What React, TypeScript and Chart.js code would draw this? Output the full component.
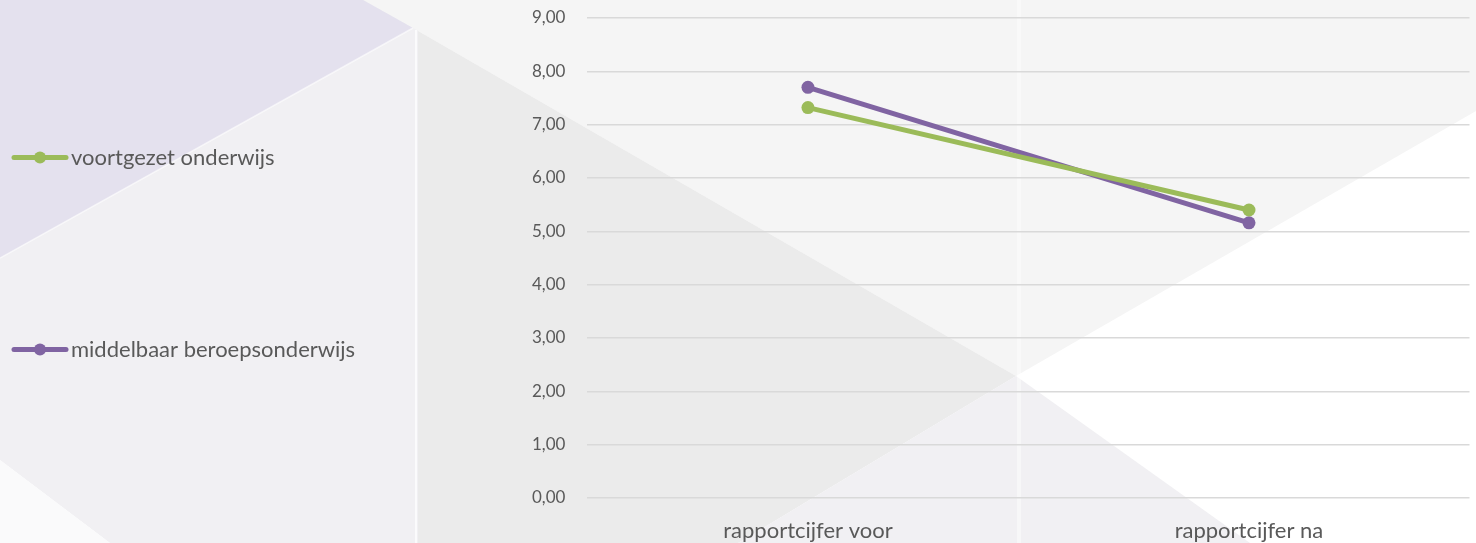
import React, { useEffect, useRef } from "react";
import { Chart, registerables } from "chart.js";

Chart.register(...registerables);

const categories = ["rapportcijfer voor", "rapportcijfer na"];
const seriesNames = ["voortgezet onderwijs", "middelbaar beroepsonderwijs"];
const voortgezetValues = [7.32, 5.4];
const mboValues = [7.7, 5.16];
const seriesColors = ["#9BBB59", "#8064A2"];
const yMin = 0;
const yMax = 9;
const yStep = 1;

const FONT = "Lato, 'Open Sans', sans-serif";

const backgroundPlugin = {
  id: "bgShapes",
  beforeDraw(chart: any) {
    const { ctx, width, height } = chart;
    const sx = width / 1476;
    const sy = height / 543;
    const poly = (pts: number[][], color: string) => {
      ctx.beginPath();
      pts.forEach(([x, y], i) => {
        if (i === 0) ctx.moveTo(x * sx, y * sy);
        else ctx.lineTo(x * sx, y * sy);
      });
      ctx.closePath();
      ctx.fillStyle = color;
      ctx.fill();
    };
    ctx.save();
    ctx.fillStyle = "#FFFFFF";
    ctx.fillRect(0, 0, width, height);
    poly([[0, 0], [418, 0], [418, 543], [110, 543], [0, 460]], "#F1F0F3");
    poly([[0, 460], [110, 543], [0, 543]], "#FAFAFB");
    poly([[363, 0], [1476, 0], [1476, 111], [1016, 376], [413, 28]], "#F5F5F5");
    poly([[0, 0], [363, 0], [413, 28], [0, 258]], "#E4E1EE");
    poly([[413, 28], [1016, 376], [738, 543], [418, 543], [418, 31]], "#EBEBEB");
    poly([[738, 543], [1016, 376], [1250, 543]], "#F1F0F3");
    ctx.strokeStyle = "rgba(255,255,255,0.7)";
    ctx.lineWidth = 2;
    ctx.beginPath();
    ctx.moveTo(416 * sx, 30 * sy);
    ctx.lineTo(416 * sx, height);
    ctx.stroke();
    ctx.strokeStyle = "rgba(255,255,255,0.45)";
    ctx.lineWidth = 4;
    ctx.beginPath();
    ctx.moveTo(1019 * sx, 0);
    ctx.lineTo(1019 * sx, height);
    ctx.stroke();
    ctx.strokeStyle = "rgba(255,255,255,0.6)";
    ctx.lineWidth = 1.5;
    ctx.beginPath();
    ctx.moveTo(413 * sx, 28 * sy);
    ctx.lineTo(0, 258 * sy);
    ctx.stroke();
    ctx.restore();
  },
};

const legendPlugin = {
  id: "sideLegend",
  afterDraw(chart: any) {
    const { ctx, height } = chart;
    const gap = 192;
    const n = chart.data.datasets.length;
    const startY = height / 2 - 114 - ((n - 1) * gap) / 2 + gap / 2;
    ctx.save();
    chart.data.datasets.forEach((ds: any, i: number) => {
      const y = startY + i * gap;
      ctx.strokeStyle = ds.borderColor;
      ctx.lineWidth = 5;
      ctx.lineCap = "round";
      ctx.beginPath();
      ctx.moveTo(14, y);
      ctx.lineTo(66, y);
      ctx.stroke();
      ctx.fillStyle = ds.borderColor;
      ctx.beginPath();
      ctx.arc(40, y, 6, 0, Math.PI * 2);
      ctx.fill();
      ctx.fillStyle = "#595959";
      ctx.font = `22px ${FONT}`;
      ctx.textBaseline = "middle";
      ctx.textAlign = "left";
      ctx.fillText(ds.label, 71, y);
    });
    ctx.restore();
  },
};

export default function App() {
  const canvasRef = useRef<HTMLCanvasElement | null>(null);

  useEffect(() => {
    if (!canvasRef.current) return;
    const mk = (i: number, data: number[]) => ({
      label: seriesNames[i],
      data,
      borderColor: seriesColors[i],
      backgroundColor: seriesColors[i],
      pointBackgroundColor: seriesColors[i],
      borderWidth: 5,
      pointRadius: 6.5,
      pointHoverRadius: 6.5,
      pointBorderWidth: 0,
      tension: 0,
      borderCapStyle: "round" as const,
    });
    const chart = new Chart(canvasRef.current, {
      type: "line",
      data: {
        labels: categories,
        datasets: [mk(0, voortgezetValues), mk(1, mboValues)],
      },
      options: {
        animation: false,
        responsive: true,
        maintainAspectRatio: false,
        layout: { padding: { left: 510, top: 18, right: 0, bottom: 0 } },
        plugins: {
          legend: { display: false },
          tooltip: { enabled: false },
        },
        scales: {
          x: {
            offset: true,
            grid: { display: false, drawTicks: false },
            border: { display: false },
            ticks: {
              color: "#595959",
              font: { family: FONT, size: 22 },
              padding: 20,
            },
            afterFit: (s: any) => {
              s.height = 45;
            },
          },
          y: {
            min: yMin,
            max: yMax,
            border: { display: false },
            grid: { color: "#D9D9D9", lineWidth: 1.5, drawTicks: false },
            ticks: {
              stepSize: yStep,
              color: "#595959",
              font: { family: FONT, size: 17 },
              padding: 22,
              callback: (v: any) => Number(v).toFixed(2).replace(".", ","),
            },
            afterFit: (s: any) => {
              s.paddingTop = 0;
              s.paddingBottom = 0;
            },
          },
        },
      },
      plugins: [backgroundPlugin, legendPlugin],
    });
    return () => chart.destroy();
  }, []);

  return (
    <div style={{ position: "fixed", left: 0, top: 0, width: 1476, height: 543 }}>
      <canvas ref={canvasRef} />
    </div>
  );
}
